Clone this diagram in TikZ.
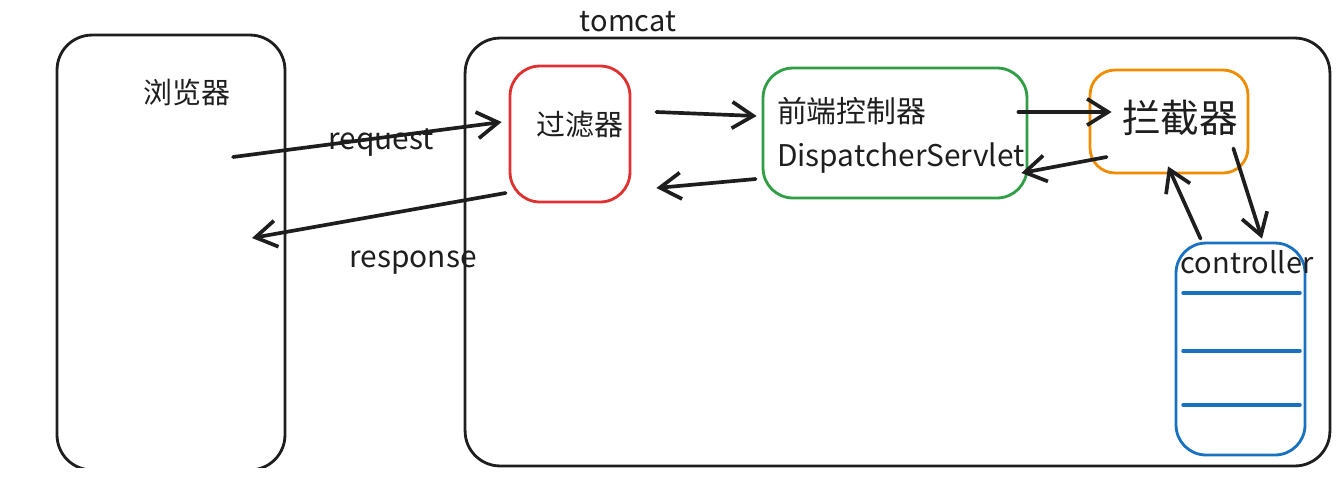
\documentclass[tikz,border=0pt]{standalone}
\usepackage{fontspec}
\setmainfont{Noto Sans CJK SC}
\usetikzlibrary{arrows.meta,calc}

\definecolor{inkblack}{HTML}{1E1E1E}
\definecolor{filterred}{HTML}{E03131}
\definecolor{dispgreen}{HTML}{2F9E44}
\definecolor{icptorange}{HTML}{F08C00}
\definecolor{ctrlblue}{HTML}{1971C2}

\begin{document}
\begin{tikzpicture}[x=0.02cm, y=-0.02cm, line cap=round, line join=round,
  box/.style={draw=inkblack, line width=1.6pt, rounded corners=0.7cm, inner sep=0pt},
  flow/.style={draw=inkblack, line width=2.1pt, -{Straight Barb[length=12pt,width=15pt,line width=2.1pt]}},
  lbl/.style={font=\fontsize{16.5}{25}\selectfont, text=inkblack, inner sep=0pt}]
\useasboundingbox (0,0) rectangle (1341,495);

\begin{scope}
\clip (0,0) rectangle (1341,467);
% Browser and tomcat
\node[box, minimum width=4.56cm, minimum height=8.7cm] (browser) at (171,252.5) {};
\node[box, minimum width=17.3cm, minimum height=8.56cm] (tomcat) at (897.5,252) {};
\end{scope}
\node[lbl] (browsertxt) at (187,92) {浏览器};
\node[lbl] (tomcattxt) at (628,22) {tomcat};

% Components inside tomcat
\node[box, draw=filterred, rounded corners=0.6cm, minimum width=2.4cm, minimum height=2.72cm] (filter) at (570,134) {};
\node[lbl] (filtertxt) at (580,125) {过滤器};
\node[box, draw=dispgreen, rounded corners=0.6cm, minimum width=5.28cm, minimum height=2.6cm] (disp) at (895,133) {};
\node[lbl, font=\fontsize{17}{25}\selectfont, align=left] (disptxt) at (901,135) {前端控制器\\DispatcherServlet};
\node[box, draw=icptorange, rounded corners=0.5cm, minimum width=3.16cm, minimum height=2.06cm] (icpt) at (1169,121.5) {};
\node[lbl, font=\fontsize{22}{24}\selectfont] (icpttxt) at (1180,118) {拦截器};

% Controller stack
\node[box, draw=ctrlblue, rounded corners=0.6cm, minimum width=2.58cm, minimum height=4.24cm] (ctrl) at (1240.5,349) {};
\foreach \yy in {293,351,405}
  \draw[ctrlblue, line width=2pt] (1183,\yy) -- (1300,\yy);
\node[lbl] (ctrltxt) at (1247,262) {controller};

% Request / response
\coordinate (reqstart) at (233,157);
\coordinate (respend) at (252,238);
\draw[flow] (reqstart) -- ($(filter.west)+(-7,-12)$);
\node[lbl, font=\fontsize{17}{25}\selectfont] (reqtxt) at (381,143) {request};
\draw[flow] ($(filter.west)+(-3,59)$) -- (respend);
\node[lbl, font=\fontsize{17}{25}\selectfont] (resptxt) at (413,263) {response};

% Flow between components
\draw[flow] ($(filter.east)+(25,-22)$) -- ($(disp.west)+(-5,-17)$);
\draw[flow] ($(disp.west)+(-6,46)$) -- ($(filter.east)+(25,54)$);
\draw[flow] ($(disp.east)+(-10,-21)$) -- ($(icpt.west)+(23,-9.5)$);
\draw[flow] ($(icpt.west)+(18,35.5)$) -- ($(disp.east)+(-7,40)$);
\draw[flow] ($(icpt.south east)+(-16,-26)$) -- ($(ctrl.north)+(21.5,-3)$);
\draw[flow] ($(ctrl.north)+(-40,-3)$) -- ($(icpt.south)+(-1,-8)$);

\end{tikzpicture}
\end{document}
